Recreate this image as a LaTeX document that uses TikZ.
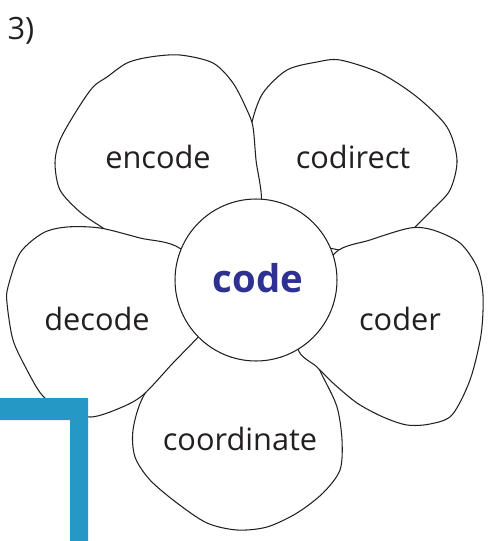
\documentclass[tikz,border=0pt]{standalone}
\usepackage{fontspec}
\setmainfont{Open Sans}
\usepackage{tikz}
\usepackage{xcolor}
\usetikzlibrary{positioning}

\definecolor{ink}{RGB}{35,31,32}
\definecolor{codeblue}{RGB}{46,49,146}
\definecolor{cornerblue}{RGB}{38,152,198}

\begin{document}
\begin{tikzpicture}[x=0.02cm, y=-0.02cm,
    petal/.style={draw=ink, fill=white, line width=0.6pt},
    word/.style={anchor=base, inner sep=0pt, text=ink, font=\fontsize{17.5}{21}\selectfont}]
\useasboundingbox (0,0) rectangle (493,541);

% petals, back to front
\draw[petal] plot[smooth cycle] coordinates {(252,122) (263,93) (287,70) (317,62) (340,60) (380,73) (417,97) (447,127) (457,160) (450,190) (432,210) (412,230) (385,256) (300,240) (255,210) (246,160)};
\draw[petal] plot[smooth cycle] coordinates {(261,205) (256,160) (253,127) (247,110) (233,83) (213,63) (180,55) (150,57) (127,63) (107,77) (93,87) (77,110) (60,140) (55,163) (60,190) (80,212) (103,228) (130,245) (200,265) (240,240)};
\draw[petal] plot[smooth cycle] coordinates {(143,397) (133,430) (135,457) (150,480) (177,503) (207,523) (237,530) (267,527) (297,513) (323,493) (340,470) (342,440) (337,407) (323,377) (300,335) (256,320) (210,330) (172,355)};
\draw[petal] plot[smooth cycle] coordinates {(181,249) (140,238) (100,228) (67,227) (43,233) (20,253) (8,287) (7,303) (13,340) (27,370) (42,395) (62,410) (91,417) (120,408) (143,395) (173,363) (200,335) (230,300)};
\draw[petal] plot[smooth cycle] coordinates {(335,253) (370,240) (410,228) (433,230) (460,243) (477,267) (483,295) (481,335) (470,380) (452,415) (430,424) (407,425) (383,417) (357,403) (333,383) (317,367) (298,348) (310,300)};

% centre
\node[circle, draw=ink, fill=white, line width=0.6pt, minimum size=3.24cm, inner sep=0pt] (hub) at (256,280) {};
\node[word, text=codeblue, font=\fontsize{21.8}{26}\selectfont\bfseries] (hubword) at (258,292) {code};

% labels
\node[word] (encode) at (158,168) {encode};
\node[word] (codirect) at (353,168) {codirect};
\node[word] (decode) at (97,330) {decode};
\node[word] (coder) at (400,330) {coder};
\node[word] (coordinate) at (240,450) {coordinate};
\node[word] (number) at (21,39) {3)};

% corner mark
\fill[cornerblue] (0,398) -- (88,398) -- (88,541) -- (70,541) -- (70,420) -- (0,420) -- cycle;
\end{tikzpicture}
\end{document}
